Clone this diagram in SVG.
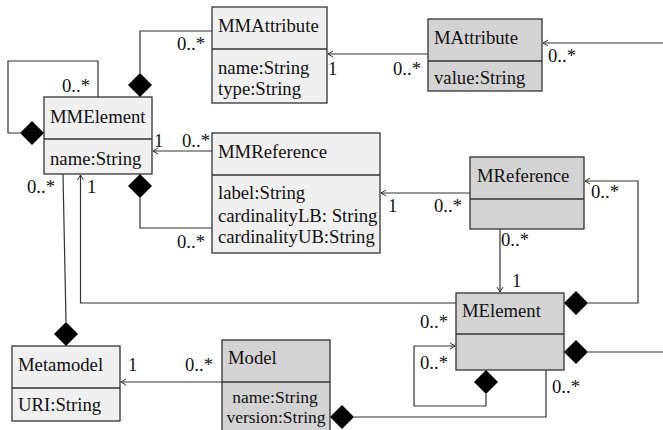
<svg xmlns="http://www.w3.org/2000/svg" width="663" height="430" viewBox="0 0 663 430">
<defs>
<marker id="arr" markerUnits="userSpaceOnUse" markerWidth="10" markerHeight="10" viewBox="-6 -5 8 10" refX="0" refY="0" orient="auto">
<path d="M-5,-3 L0,0 L-5,3" fill="none" stroke="#333" stroke-width="1"/>
</marker>
</defs>
<style>
text{font-family:"Liberation Serif","Times New Roman",serif;font-size:18.7px;fill:#111}
.mm{fill:#f0f0f0;stroke:#333;stroke-width:1.3}
.m{fill:#d3d3d3;stroke:#333;stroke-width:1.3}
.div{stroke:#333;stroke-width:1.3}
.c{fill:none;stroke:#333;stroke-width:1.2}
.a{fill:none;stroke:#333;stroke-width:1.2;marker-end:url(#arr)}
.d{fill:#000;stroke:none}
.sm{font-size:17.5px}
</style>

<g id="MMElement">
<rect class="mm" x="44" y="97" width="108" height="77"/>
<line class="div" x1="44" y1="139" x2="152" y2="139"/>
<text x="50" y="123">MMElement</text>
<text x="50" y="165">name:String</text>
</g>

<g id="MMAttribute">
<rect class="mm" x="212" y="7" width="115" height="96"/>
<line class="div" x1="212" y1="49" x2="327" y2="49"/>
<text x="218" y="32">MMAttribute</text>
<text x="218" y="74">name:String</text>
<text x="218" y="95">type:String</text>
</g>

<g id="MAttribute">
<rect class="m" x="428" y="19" width="114" height="72"/>
<line class="div" x1="428" y1="61" x2="542" y2="61"/>
<text x="434" y="44">MAttribute</text>
<text x="434" y="84">value:String</text>
</g>

<g id="MMReference">
<rect class="mm" x="212" y="133" width="168" height="120"/>
<line class="div" x1="212" y1="175" x2="380" y2="175"/>
<text x="218" y="158">MMReference</text>
<text x="218" y="199">label:String</text>
<text x="218" y="222">cardinalityLB: String</text>
<text x="218" y="243">cardinalityUB:String</text>
</g>

<g id="MReference">
<rect class="m" x="470" y="157" width="114" height="72"/>
<line class="div" x1="470" y1="199" x2="584" y2="199"/>
<text x="477" y="182">MReference</text>
</g>

<g id="MElement">
<rect class="m" x="456" y="293" width="108" height="77"/>
<line class="div" x1="456" y1="334" x2="564" y2="334"/>
<text x="462" y="317">MElement</text>
</g>

<g id="Metamodel">
<rect class="mm" x="12" y="346" width="108" height="75"/>
<line class="div" x1="12" y1="388" x2="120" y2="388"/>
<text x="18" y="371">Metamodel</text>
<text x="18" y="411">URI:String</text>
</g>

<g id="Model">
<rect class="m" x="222" y="340" width="108" height="100"/>
<line class="div" x1="222" y1="382" x2="330" y2="382"/>
<text x="228" y="364">Model</text>
<text class="sm" x="275" y="403" text-anchor="middle">name:String</text>
<text class="sm" x="276" y="423" text-anchor="middle">version:String</text>
</g>

<g id="connectors">
<path class="c" d="M98,97 V61 H8 V133 H20"/>
<polygon class="d" points="20,133 32,121 44,133 32,145"/>
<path class="c" d="M140,73 V31 H212"/>
<polygon class="d" points="140,73 152,85 140,97 128,85"/>
<path class="a" d="M212,151 H153"/>
<path class="c" d="M140,198 V228 H212"/>
<polygon class="d" points="140,174 152,186 140,198 128,186"/>
<path class="c" d="M63,174 L66,322"/>
<polygon class="d" points="66,322 78,334 66,346 54,334"/>
<path class="a" d="M456,303 H80.5 V175"/>
<path class="a" d="M428,54 H328"/>
<path class="a" d="M663,43 H543"/>
<path class="a" d="M470,193 H381"/>
<path class="a" d="M500,229 V292"/>
<path class="a" d="M588,303 H638 V181 H585"/>
<polygon class="d" points="564,303 576,291 588,303 576,315"/>
<path class="c" d="M588,352 H663"/>
<polygon class="d" points="564,352 576,340 588,352 576,364"/>
<path class="a" d="M486,394 V406 H414 V346 H455"/>
<polygon class="d" points="486,370 498,382 486,394 474,382"/>
<path class="c" d="M546,370 V417 H354"/>
<polygon class="d" points="330,417 342,405 354,417 342,429"/>
<path class="a" d="M222,382 H121"/>

<text x="62" y="92">0..*</text>
<text x="177" y="50">0..*</text>
<text x="154" y="147">1</text>
<text x="182" y="147">0..*</text>
<text x="177" y="248">0..*</text>
<text x="27" y="193">0..*</text>
<text x="87" y="193">1</text>
<text x="328" y="75">1</text>
<text x="393" y="75">0..*</text>
<text x="548" y="62">0..*</text>
<text x="388" y="212">1</text>
<text x="434" y="212">0..*</text>
<text x="501" y="246">0..*</text>
<text x="512" y="287">1</text>
<text x="591" y="198">0..*</text>
<text x="420" y="328">0..*</text>
<text x="420" y="369">0..*</text>
<text x="552" y="393">0..*</text>
<text x="128" y="371">1</text>
<text x="185" y="371">0..*</text>
</g>
</svg>
